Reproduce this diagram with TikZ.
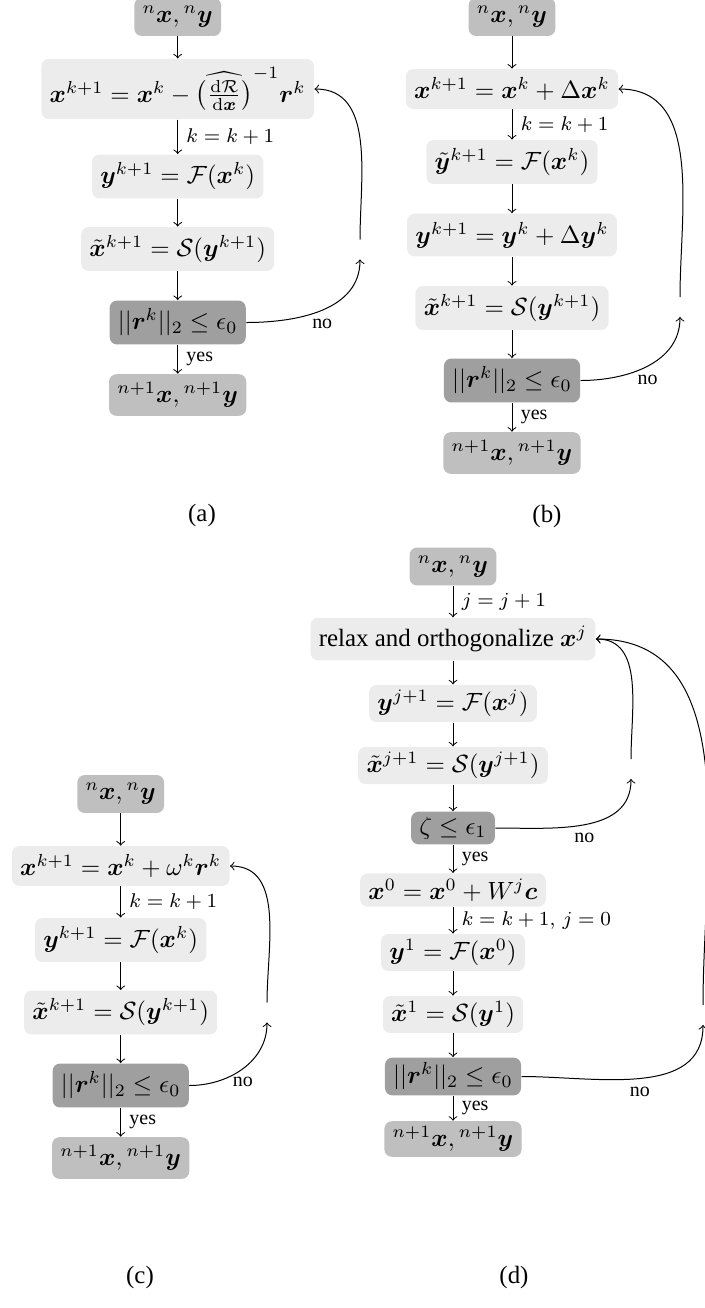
\documentclass[tikz,border=0pt]{standalone}
\usepackage{amsmath}
\usepackage{bm}
\usepackage[no-math]{fontspec}
\setmainfont{Liberation Serif}
\begin{document}
\begin{tikzpicture}[x=0.4016pt,y=-0.4016pt,
  box/.style={rounded corners=3pt,inner sep=3.33pt},
  io/.style={box,fill=gray!50},
  stepbox/.style={box,fill=gray!15},
  decide/.style={box,fill=gray!75},
  tight/.style={inner ysep=2.1pt},
  lbl/.style={font=\footnotesize},
  loopnode/.style={inner sep=3.8pt},
  captext/.style={inner sep=0pt}]
\useasboundingbox (0,0) rectangle (704,1308);
% ---------- (a)
\node[io] (a0) at (177.7,17) {${}^{n}\bm{x},{}^{n}\bm{y}$};
\node[stepbox] (a1) at (177.7,89) {$\bm{x}^{k+1}=\bm{x}^k-\widehat{\left(\frac{\mathrm{d}\mathcal{R}}{\mathrm{d}\bm{x}}\right)}^{-1}\bm{r}^k$};
\node[stepbox] (a2) at (177.7,176.5) {$\bm{y}^{k+1}=\mathcal{F}(\bm{x}^k)$};
\node[stepbox] (a3) at (177.7,249) {$\tilde{\bm{x}}^{k+1}=\mathcal{S}(\bm{y}^{k+1})$};
\node[decide] (a4) at (177.7,322.5) {$||\bm{r}^k||_2\leq\epsilon_0$};
\node[io] (a5) at (177.7,395) {${}^{n+1}\bm{x},{}^{n+1}\bm{y}$};
\node[loopnode] (ap) at (360,249.5) {};
\draw[->] (a0) -- (a1);
\draw[->] (a1) -- node[lbl,right] {$k=k+1$} (a2);
\draw[->] (a2) -- (a3);
\draw[->] (a3) -- (a4);
\draw[->] (a4) -- node[lbl,right] {yes} (a5);
\draw[->] (a4) to[out=0,in=-90] node[lbl,below] {no} (ap);
\draw[->] (ap) to[out=90,in=0] (a1);
\node[captext] (capa) at (202,515) {(a)};
% ---------- (b)
\node[io] (b0) at (512,17) {${}^{n}\bm{x},{}^{n}\bm{y}$};
\node[stepbox] (b1) at (512,89) {$\bm{x}^{k+1}=\bm{x}^k+\Delta\bm{x}^k$};
\node[stepbox] (b2) at (512,162) {$\tilde{\bm{y}}^{k+1}=\mathcal{F}(\bm{x}^k)$};
\node[stepbox] (b3) at (512,235) {$\bm{y}^{k+1}=\bm{y}^k+\Delta\bm{y}^k$};
\node[stepbox] (b4) at (512,308) {$\tilde{\bm{x}}^{k+1}=\mathcal{S}(\bm{y}^{k+1})$};
\node[decide] (b5) at (512,380.5) {$||\bm{r}^k||_2\leq\epsilon_0$};
\node[io] (b6) at (512,453) {${}^{n+1}\bm{x},{}^{n+1}\bm{y}$};
\node[loopnode] (bp) at (680,307) {};
\draw[->] (b0) -- (b1);
\draw[->] (b1) -- node[lbl,right] {$k=k+1$} (b2);
\draw[->] (b2) -- (b3);
\draw[->] (b3) -- (b4);
\draw[->] (b4) -- (b5);
\draw[->] (b5) -- node[lbl,right] {yes} (b6);
\draw[->] (b5) to[out=0,in=-90] node[lbl,below] {no} (bp);
\draw[->] (bp) to[out=90,in=0] (b1);
\node[captext] (capb) at (547,516) {(b)};
% ---------- (c)
\node[io] (c0) at (120.7,794) {${}^{n}\bm{x},{}^{n}\bm{y}$};
\node[stepbox] (c1) at (120.7,866) {$\bm{x}^{k+1}=\bm{x}^k+\omega^k\bm{r}^k$};
\node[stepbox] (c2) at (120.7,940) {$\bm{y}^{k+1}=\mathcal{F}(\bm{x}^k)$};
\node[stepbox] (c3) at (120.7,1012.5) {$\tilde{\bm{x}}^{k+1}=\mathcal{S}(\bm{y}^{k+1})$};
\node[decide] (c4) at (120.7,1085.5) {$||\bm{r}^k||_2\leq\epsilon_0$};
\node[io] (c5) at (120.7,1158) {${}^{n+1}\bm{x},{}^{n+1}\bm{y}$};
\node[loopnode] (cp) at (267,1012.5) {};
\draw[->] (c0) -- (c1);
\draw[->] (c1) -- node[lbl,right] {$k=k+1$} (c2);
\draw[->] (c2) -- (c3);
\draw[->] (c3) -- (c4);
\draw[->] (c4) -- node[lbl,right] {yes} (c5);
\draw[->] (c4) to[out=0,in=-90] node[lbl,below] {no} (cp);
\draw[->] (cp) to[out=90,in=0] (c1);
\node[captext] (capc) at (140,1277) {(c)};
% ---------- (d)
\node[io] (d0) at (453,566.5) {${}^{n}\bm{x},{}^{n}\bm{y}$};
\node[stepbox] (d1) at (453,639) {relax and orthogonalize $\bm{x}^j$};
\node[stepbox,tight] (d2) at (453,703.5) {$\bm{y}^{j+1}=\mathcal{F}(\bm{x}^j)$};
\node[stepbox,tight] (d3) at (453,765.5) {$\tilde{\bm{x}}^{j+1}=\mathcal{S}(\bm{y}^{j+1})$};
\node[decide,tight] (d4) at (453,828) {$\zeta\leq\epsilon_1$};
\node[stepbox,tight] (d5) at (453,890) {$\bm{x}^0=\bm{x}^0+W^j\bm{c}$};
\node[stepbox,tight] (d6) at (453,952.5) {$\bm{y}^1=\mathcal{F}(\bm{x}^0)$};
\node[stepbox,tight] (d7) at (453,1014.5) {$\tilde{\bm{x}}^1=\mathcal{S}(\bm{y}^1)$};
\node[decide,tight] (d8) at (453,1076.5) {$||\bm{r}^k||_2\leq\epsilon_0$};
\node[io,tight] (d9) at (453,1139) {${}^{n+1}\bm{x},{}^{n+1}\bm{y}$};
\node[loopnode] (dp1) at (631,769) {};
\node[loopnode] (dp2) at (703,1015) {};
\draw[->] (d0) -- node[lbl,right] {$j=j+1$} (d1);
\draw[->] (d1) -- (d2);
\draw[->] (d2) -- (d3);
\draw[->] (d3) -- (d4);
\draw[->] (d4) -- node[lbl,right] {yes} (d5);
\draw[->] (d5) -- node[lbl,right] {$k=k+1,\,j=0$} (d6);
\draw[->] (d6) -- (d7);
\draw[->] (d7) -- (d8);
\draw[->] (d8) -- node[lbl,right] {yes} (d9);
\draw[->] (d4) to[out=0,in=-90] node[lbl,below] {no} (dp1);
\draw[->] (dp1) to[out=90,in=0] (d1);
\draw[->] (d8) to[out=0,in=-90] node[lbl,below] {no} (dp2);
\draw[->] (dp2) to[out=90,in=0] (d1);
\node[captext] (capd) at (514,1277) {(d)};
\end{tikzpicture}
\end{document}
